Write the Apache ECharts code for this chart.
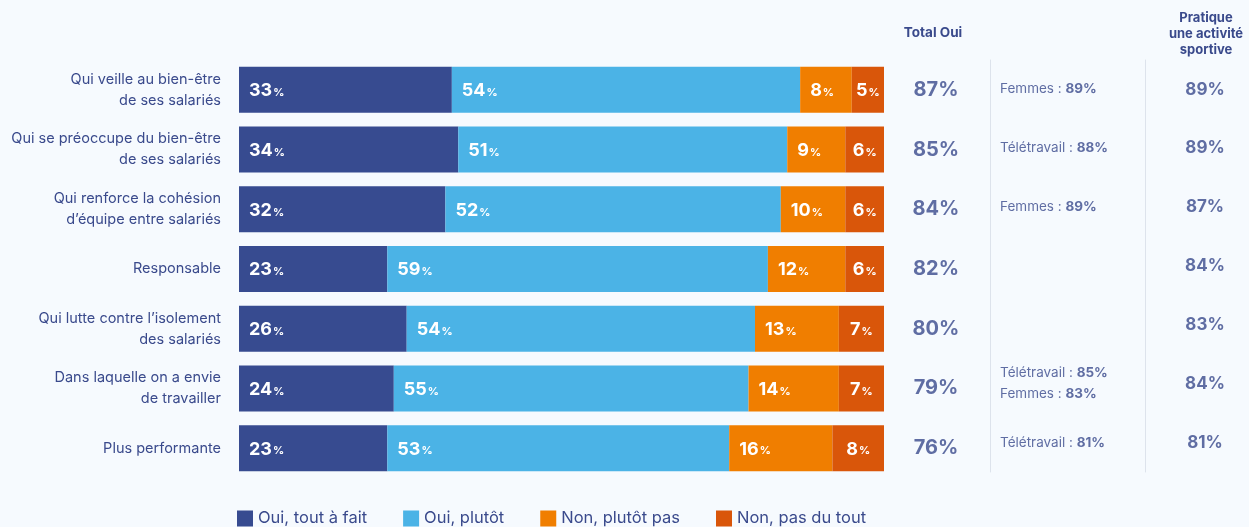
<!DOCTYPE html>
<html><head><meta charset="utf-8">
<script src="https://cdn.jsdelivr.net/npm/echarts@6/dist/echarts.min.js"></script>
<style>html,body{margin:0;padding:0;background:#f6fafe;}#c{width:1249px;height:527px;}</style>
</head><body><div id="c"></div>
<script>
const categories = [
  "Qui veille au bien-être\nde ses salariés",
  "Qui se préoccupe du bien-être\nde ses salariés",
  "Qui renforce la cohésion\nd’équipe entre salariés",
  "Responsable",
  "Qui lutte contre l’isolement\ndes salariés",
  "Dans laquelle on a envie\nde travailler",
  "Plus performante"
];
const seriesNames = ["Oui, tout à fait", "Oui, plutôt", "Non, plutôt pas", "Non, pas du tout"];
const ouiToutAFait = [33, 34, 32, 23, 26, 24, 23];
const ouiPlutot    = [54, 51, 52, 59, 54, 55, 53];
const nonPlutotPas = [8, 9, 10, 12, 13, 14, 16];
const nonPasDuTout = [5, 6, 6, 6, 7, 7, 8];
const totalOui     = [87, 85, 84, 82, 80, 79, 76];
const notes = [
  [["Femmes", 89]],
  [["Télétravail", 88]],
  [["Femmes", 89]],
  [],
  [],
  [["Télétravail", 85], ["Femmes", 83]],
  [["Télétravail", 81]]
];
const sportive = [89, 89, 87, 84, 83, 84, 81];

const colors = ["#374b90", "#4bb3e6", "#f07e00", "#d9560a"];
const navy = "#3a4a8c";
const FONT = "Inter";

const chart = echarts.init(document.getElementById('c'));
const rows = categories.map((_, i) => i);
const gridTop = 60, gridH = 418;

function yCat(gridIndex, showLabels, line) {
  return {
    type: 'category', gridIndex, data: showLabels ? categories : rows, inverse: true,
    axisTick: {show: false},
    axisLine: line ? {show: true, lineStyle: {color: '#dde3ec', width: 1}} : {show: false},
    axisLabel: showLabels ? {
      show: true, color: navy, fontFamily: FONT, fontSize: 14.5, lineHeight: 21,
      margin: 18, align: 'right'
    } : {show: false}
  };
}
function xHidden(gridIndex, max) {
  return {type: 'value', gridIndex, min: 0, max, show: false, splitLine: {show: false}};
}

const barData = [ouiToutAFait, ouiPlutot, nonPlutotPas, nonPasDuTout];
const barSeries = barData.map((arr, k) => ({
  name: seriesNames[k], type: 'bar', stack: 'all', xAxisIndex: 0, yAxisIndex: 0,
  barWidth: 46, data: arr,
  itemStyle: {color: colors[k]},
  label: {
    show: true, position: k === 3 ? 'inside' : 'insideLeft', distance: 10, offset: [0, 1],
    formatter: p => '{v|' + p.value + '}{p|%}',
    rich: {
      v: {color: '#fff', fontFamily: FONT, fontSize: 18, fontWeight: 'bold'},
      p: {color: '#fff', fontFamily: FONT, fontSize: 11, fontWeight: 'bold', padding: [4, 0, 0, 1]}
    }
  }
}));

const totalSeries = {
  type: 'scatter', xAxisIndex: 1, yAxisIndex: 1, symbolSize: 0, silent: true,
  data: totalOui.map((v, i) => [0.5, i]),
  label: {
    show: true, position: 'inside',
    formatter: p => totalOui[p.dataIndex] + '%',
    color: navy, fontFamily: FONT, fontSize: 20, fontWeight: 'bold'
  }
};
const notesSeries = {
  type: 'scatter', xAxisIndex: 2, yAxisIndex: 2, symbolSize: 0, silent: true,
  data: notes.map((v, i) => [0, i]),
  label: {
    show: true, position: 'right', distance: 10, align: 'left',
    formatter: p => notes[p.dataIndex].map(n => '{n|' + n[0] + ' : }{b|' + n[1] + '%}').join('\n'),
    rich: {
      n: {color: navy, fontFamily: FONT, fontSize: 13.5, lineHeight: 21},
      b: {color: navy, fontFamily: FONT, fontSize: 13.5, fontWeight: 'bold', lineHeight: 21}
    }
  }
};
const sportSeries = {
  type: 'scatter', xAxisIndex: 3, yAxisIndex: 3, symbolSize: 0, silent: true,
  data: sportive.map((v, i) => [0.5, i]),
  label: {
    show: true, position: 'inside', offset: [8, 0],
    formatter: p => sportive[p.dataIndex] + '%',
    color: navy, fontFamily: FONT, fontSize: 17, fontWeight: 'bold'
  }
};

chart.setOption({
  backgroundColor: '#f6fafe',
  animation: false,
  grid: [
    {left: 239, width: 645, top: gridTop, height: gridH},
    {left: 884, width: 104, top: gridTop, height: gridH},
    {left: 990, width: 155, top: gridTop, height: gridH - 6},
    {left: 1145, width: 104, top: gridTop, height: gridH - 6}
  ],
  xAxis: [xHidden(0, 100), xHidden(1, 1), xHidden(2, 1), xHidden(3, 1)],
  yAxis: [yCat(0, true, false), yCat(1, false, false), yCat(2, false, true), yCat(3, false, true)],
  legend: {
    data: seriesNames, left: 237, top: 510, padding: 0, icon: 'rect', itemWidth: 16, itemHeight: 16,
    itemGap: 36, textStyle: {color: navy, fontFamily: FONT, fontSize: 16.5, padding: [0, 0, 0, 0]}
  },
  graphic: [
    {type: 'text', x: 933, y: 33, style: {text: 'Total Oui', fill: navy, font: 'bold 13.5px ' + FONT, align: 'center', verticalAlign: 'middle'}},
    {type: 'text', x: 1206, y: 34, style: {text: 'Pratique\nune activité\nsportive', fill: navy, font: 'bold 13px ' + FONT, lineHeight: 16, align: 'center', verticalAlign: 'middle'}}
  ],
  series: [...barSeries, totalSeries, notesSeries, sportSeries]
});
</script></body></html>
